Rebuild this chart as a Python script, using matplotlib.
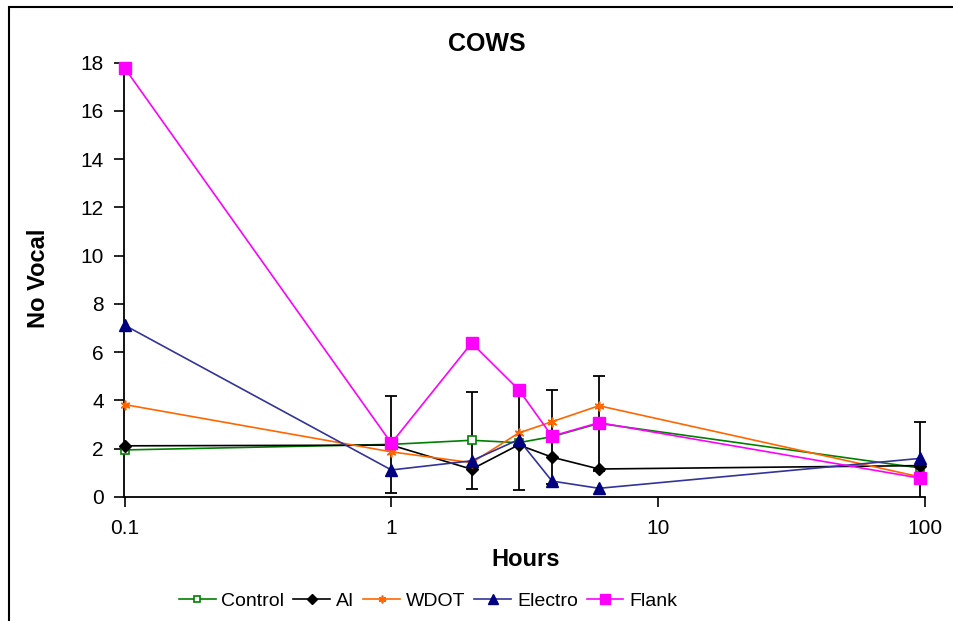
import matplotlib
matplotlib.use("Agg")
import matplotlib.pyplot as plt
from matplotlib.patches import Rectangle
import numpy as np

plt.rcParams['font.family'] = ['Liberation Sans', 'DejaVu Sans']

hours = [0.1, 1, 2, 3, 4, 6, 96]
control = [1.95, 2.18, 2.35, 2.25, 2.5, 3.05, 1.2]
control_err = [np.nan, 2.0, 2.0, 1.95, 1.95, 1.97, 1.9]
ai = [2.12, 2.15, 1.15, 2.16, 1.65, 1.16, 1.3]
wdot = [3.83, 1.87, 1.42, 2.65, 3.12, 3.78, 0.83]
electro = [7.12, 1.12, 1.5, 2.38, 0.66, 0.36, 1.6]
flank = [17.78, 2.23, 6.38, 4.45, 2.52, 3.08, 0.78]

xticks = [0.1, 1, 10, 100]
xticklabels = ["0.1", "1", "10", "100"]
yticks = list(range(0, 19, 2))

fig = plt.figure(figsize=(9.54, 6.21), dpi=100)
ax = fig.add_axes([124.5/954, 1-497/621, (925-124.5)/954, (497-62.5)/621])

lw = 1.2
ax.errorbar(hours, control, yerr=control_err, fmt='none', ecolor='black',
            elinewidth=1.3, capsize=4.5, capthick=1.3, zorder=1)
ax.plot(hours, control, color='#008000', lw=lw, marker='s', ms=6,
        mfc='white', mec='#008000', mew=1.2, label='Control', zorder=2,
        clip_on=False)
ax.plot(hours, ai, color='black', lw=lw, marker='D', ms=6,
        mfc='black', mec='black', label='AI', zorder=3, clip_on=False)
ax.plot(hours, wdot, color='#FF6600', lw=lw, marker=(6, 2, 0), ms=7,
        mec='#FF6600', mew=1.2, label='WDOT', zorder=4, clip_on=False)
ax.plot(hours, electro, color='#333399', lw=lw, marker='^', ms=8.5,
        mfc='#000080', mec='#000080', label='Electro', zorder=5,
        clip_on=False)
ax.plot(hours, flank, color='#FF00FF', lw=lw, marker='s', ms=8.5,
        mfc='#FF00FF', mec='#FF00FF', label='Flank', zorder=6,
        clip_on=False)

ax.set_xscale('log')
ax.set_xlim(0.1, 100)
ax.set_ylim(0, 18)
ax.set_xticks(xticks)
ax.set_xticklabels(xticklabels)
ax.xaxis.set_minor_locator(matplotlib.ticker.NullLocator())
ax.set_yticks(yticks)
ax.tick_params(axis='both', direction='out', length=7, width=1.2,
               labelsize=15, colors='black')
ax.tick_params(axis='y', pad=8)
ax.tick_params(axis='x', pad=9)
for s in ['top', 'right']:
    ax.spines[s].set_visible(False)
for s in ['left', 'bottom']:
    ax.spines[s].set_linewidth(1.3)
    ax.spines[s].set_zorder(1.5)

fig.text(487/954, 1-44/621, 'COWS', ha='center', va='center',
         fontsize=18, fontweight='bold')
fig.text(526/954, 1-560/621, 'Hours', ha='center', va='center',
         fontsize=17, fontweight='bold')
fig.text(39/954, 1-278/621, 'No Vocal', ha='center', va='center',
         fontsize=17, fontweight='bold', rotation=90)

leg = fig.legend(loc='center', bbox_to_anchor=(428/954, 1-601/621), ncol=5,
                 frameon=False, fontsize=14, handlelength=1.9,
                 columnspacing=0.45, handletextpad=0.3, markerscale=0.8)

fig.patches.append(Rectangle((9/954, -0.1), 1.1, 1.1 - 7/621,
                             transform=fig.transFigure, fill=False,
                             edgecolor='black', lw=1.5))

fig.savefig('out.png', dpi=100)
